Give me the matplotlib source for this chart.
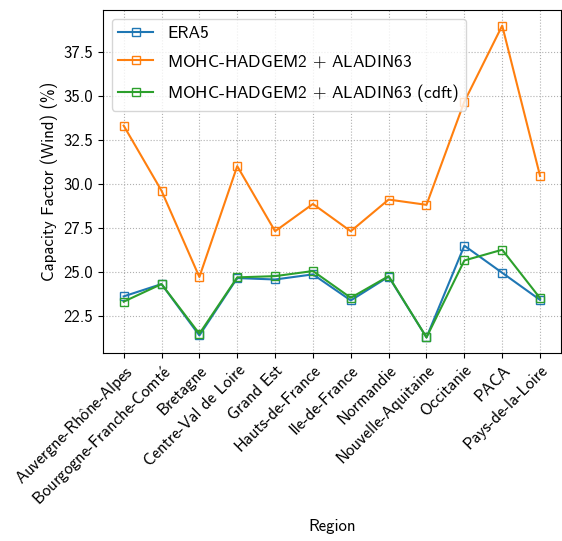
import matplotlib
matplotlib.use("Agg")
import matplotlib.pyplot as plt

plt.rcParams['font.family'] = ['cmss10', 'DejaVu Sans']
plt.rcParams['mathtext.fontset'] = 'cm'
plt.rcParams['axes.unicode_minus'] = False

# accented letters go through mathtext so cmss10 draws them properly
regions = [r"Auvergne-Rh$\mathsf{\hat{o}}$ne-Alpes", r"Bourgogne-Franche-Comt$\mathsf{\acute{e}}$",
           "Bretagne", "Centre-Val de Loire", "Grand Est", "Hauts-de-France", "Ile-de-France",
           "Normandie", "Nouvelle-Aquitaine", "Occitanie", "PACA", "Pays-de-la-Loire"]

era5 = [23.6, 24.3, 21.38, 24.64, 24.56, 24.85, 23.37, 24.72, 21.27, 26.48, 24.94, 23.4]
aladin = [33.3, 29.6, 24.7, 31.0, 27.3, 28.85, 27.3, 29.1, 28.8, 34.66, 38.98, 30.44]
aladin_cdft = [23.3, 24.3, 21.48, 24.68, 24.75, 25.04, 23.52, 24.75, 21.27, 25.64, 26.25, 23.5]

fig = plt.figure(figsize=(5.62, 5.41), dpi=100)
ax = fig.add_axes([0.183, 0.3475, 0.815, 0.634])

x = range(len(regions))
ax.plot(x, era5, marker='s', fillstyle='none', markersize=5.5, color='tab:blue', label='ERA5')
ax.plot(x, aladin, marker='s', fillstyle='none', markersize=5.5, color='tab:orange',
        label=r'MOHC-HADGEM2 $+$ ALADIN63')
ax.plot(x, aladin_cdft, marker='s', fillstyle='none', markersize=5.5, color='tab:green',
        label=r'MOHC-HADGEM2 $+$ ALADIN63 (cdft)')

ax.set_xticks(list(x))
ax.set_xticklabels(regions, rotation=45, ha='right', rotation_mode='anchor', fontsize=12)
ax.tick_params(axis='y', labelsize=12)
ax.set_xlabel("Region", fontsize=12, labelpad=6)
ax.set_ylabel("Capacity Factor (Wind) (%)", fontsize=12)
ax.grid(True, linestyle=':')
ax.legend(loc='upper left', fontsize=12.5, labelspacing=0.7)

fig.savefig("out.png", dpi=100)
